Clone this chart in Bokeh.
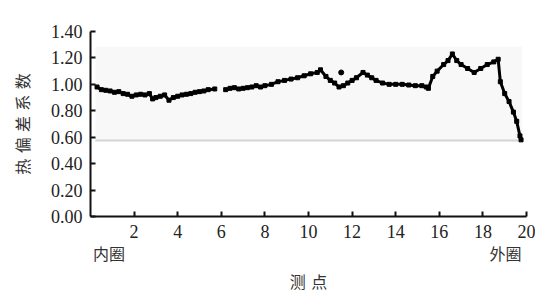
from bokeh.plotting import figure
from bokeh.models import LinearAxis, FixedTicker, CustomJSTickFormatter, Range1d
from bokeh.embed import file_html
from bokeh.resources import INLINE

# ---- data ----
seg1_x = [0.3, 0.5, 0.7, 0.9, 1.1, 1.3, 1.5, 1.7, 1.9, 2.1, 2.3, 2.5, 2.7, 2.85, 3.0, 3.2, 3.4,
          3.6, 3.8, 4.0, 4.2, 4.4, 4.6, 4.8, 5.0, 5.2, 5.4, 5.7]
seg1_y = [0.98, 0.96, 0.955, 0.95, 0.94, 0.945, 0.93, 0.925, 0.91, 0.92, 0.925, 0.92, 0.93, 0.89,
          0.90, 0.91, 0.92, 0.88, 0.90, 0.91, 0.92, 0.925, 0.93, 0.94, 0.945, 0.95, 0.96, 0.965]
seg2_x = [6.2, 6.4, 6.6, 6.8, 7.0, 7.2, 7.4, 7.6, 7.8, 8.0, 8.3, 8.6, 8.9, 9.2, 9.5, 9.8, 10.1,
          10.4, 10.55, 10.8, 11.0, 11.2, 11.4, 11.6, 11.8, 12.0, 12.2, 12.5, 12.7, 12.9, 13.1,
          13.4, 13.7, 14.0, 14.3, 14.6, 14.9, 15.2, 15.4, 15.5, 15.7, 15.9, 16.2, 16.4, 16.6,
          16.8, 17.0, 17.3, 17.6, 17.9, 18.2, 18.5, 18.7, 18.8, 19.0, 19.2, 19.4, 19.55, 19.7, 19.75]
seg2_y = [0.96, 0.97, 0.975, 0.965, 0.97, 0.975, 0.98, 0.99, 0.98, 0.99, 1.0, 1.02, 1.03, 1.04,
          1.05, 1.065, 1.08, 1.09, 1.11, 1.06, 1.03, 1.01, 0.98, 0.99, 1.01, 1.03, 1.05, 1.09,
          1.07, 1.05, 1.03, 1.01, 1.0, 1.0, 1.0, 0.995, 0.99, 0.99, 0.98, 0.97, 1.06, 1.10, 1.15,
          1.18, 1.23, 1.18, 1.15, 1.12, 1.09, 1.12, 1.15, 1.17, 1.19, 1.02, 0.93, 0.87, 0.79,
          0.72, 0.61, 0.58]
lone_x = [11.5]
lone_y = [1.09]

x_ticks = [2, 4, 6, 8, 10, 12, 14, 16, 18, 20]
y_ticks = [0.0, 0.2, 0.4, 0.6, 0.8, 1.0, 1.2, 1.4]
end_label_pos = [0.85, 19.04]   # 内圈 / 外圈
box_x = [0.22, 19.8]
box_y = [0.575, 1.285]

p = figure(width=535, height=295, output_backend="svg", toolbar_location=None,
           x_range=Range1d(0, 20), y_range=Range1d(0, 1.4),
           min_border_left=90, min_border_right=9, min_border_top=31, min_border_bottom=76)
p.outline_line_color = None
p.xgrid.visible = False
p.ygrid.visible = False
p.background_fill_color = "white"

# faint scanned backdrop
p.quad(left=box_x[0], right=box_x[1], bottom=box_y[0], top=box_y[1],
       fill_color="#f8f8f8", line_color=None)
p.line([box_x[0], box_x[1]], [box_y[0], box_y[0]], line_color="#d4d4d4", line_width=2)

for xs, ys in [(seg1_x, seg1_y), (seg2_x, seg2_y)]:
    p.line(xs, ys, line_color="black", line_width=3)
    p.scatter(xs, ys, marker="square", size=4, color="black")
p.scatter(lone_x, lone_y, marker="circle", size=5, color="black")

serif = "'Liberation Serif', 'Times New Roman', serif"
cjk = "Noto Sans CJK SC"
sp = "\u2004"

xa = p.xaxis[0]
ya = p.yaxis[0]
xa.ticker = FixedTicker(ticks=x_ticks)
ya.ticker = FixedTicker(ticks=y_ticks)
ya.formatter = CustomJSTickFormatter(code="return tick.toFixed(2);")
for ax in (xa, ya):
    ax.axis_line_width = 2
    ax.axis_line_color = "#111111"
    ax.major_tick_line_color = "#111111"
    ax.major_tick_line_width = 2
    ax.major_tick_in = 5
    ax.major_tick_out = 0
    ax.minor_tick_line_color = None
    ax.major_label_text_font = serif
    ax.major_label_text_font_size = "18px"
    ax.major_label_text_color = "#222222"
    ax.axis_label_text_font = cjk
    ax.axis_label_text_font_size = "16px"
    ax.axis_label_text_font_style = "normal"
    ax.axis_label_text_color = "#333333"

xa.major_label_standoff = 8
ya.axis_label = sp.join("热偏差系数")
ya.major_label_standoff = 8
ya.axis_label_standoff = 14

# second, line-less axis below carrying the end labels and the axis title
xb = LinearAxis(ticker=FixedTicker(ticks=end_label_pos),
                formatter=CustomJSTickFormatter(code="return tick < 10 ? '内圈' : '外圈';"),
                axis_line_color=None, major_tick_line_color=None, minor_tick_line_color=None,
                major_tick_in=0, major_tick_out=0, major_label_standoff=0,
                major_label_text_font=cjk, major_label_text_font_size="16px",
                major_label_text_color="#333333",
                axis_label=sp.join("测点"), axis_label_text_font=cjk,
                axis_label_text_font_size="16px", axis_label_text_font_style="normal",
                axis_label_text_color="#333333", axis_label_standoff=1)
p.add_layout(xb, "below")

open("out.html", "w").write(file_html(p, INLINE))
